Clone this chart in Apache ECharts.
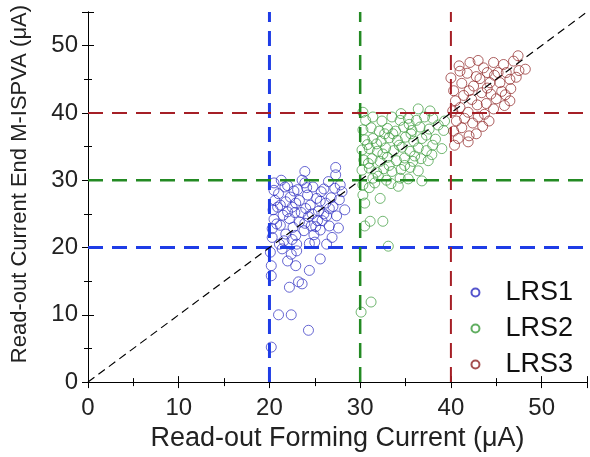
<!DOCTYPE html>
<html><head><meta charset="utf-8">
<script src="https://cdn.jsdelivr.net/npm/echarts@6/dist/echarts.min.js"></script>
<style>html,body{margin:0;padding:0;background:#fff}#c{width:590px;height:457px}</style>
</head><body><div id="c"></div>
<script>
const seriesNames = ['LRS1', 'LRS2', 'LRS3'];
const axisTicks = [0, 10, 20, 30, 40, 50];
const axisMax = 55;
const thresholds = [20, 30, 40];

const lrs1 = [
[20.2,5.2],[21.0,10.0],[22.4,10.0],[24.3,7.7],[22.2,14.1],[23.2,14.9],[23.6,14.6],[20.2,15.8],[20.2,17.3],[22.9,17.3],
[24.4,16.6],[25.6,18.3],[22.4,19.0],[22.0,18.0],[20.1,19.3],[26.3,20.5],[21.1,20.5],[23.0,20.5],[22.5,21.2],[20.3,21.5],
[20.3,22.8],[20.5,24.2],[20.4,25.6],[20.6,27.0],[20.5,28.5],[20.5,29.6],[21.3,30.0],[21.0,28.0],[21.2,26.3],[21.5,24.8],
[21.2,23.3],[21.8,22.0],[22.0,29.2],[22.3,27.5],[22.5,26.0],[22.2,24.3],[22.6,23.0],[22.9,21.8],[23.1,28.6],[23.3,27.0],
[23.5,25.2],[23.3,23.8],[23.8,22.5],[23.9,29.6],[23.9,31.3],[24.2,27.8],[24.5,26.3],[24.3,24.6],[24.6,23.2],[24.9,21.9],
[24.8,29.0],[25.2,27.3],[25.4,25.4],[25.3,24.0],[25.6,22.6],[25.0,20.8],[25.7,28.3],[25.6,26.9],[26.0,25.0],[26.3,24.7],
[26.6,23.2],[26.5,29.8],[26.8,27.4],[27.0,26.1],[27.3,30.8],[27.3,31.9],[27.7,27.1],[27.8,29.3],[28.3,25.6],[27.4,24.7],
[27.6,22.9],[26.0,28.7],[21.6,21.0],[22.8,25.2],[24.0,25.8],[21.8,26.8],[23.6,30.0],[22.7,28.4],[20.8,23.5],[25.1,23.1],
[26.9,21.5],[24.4,20.6],[23.0,19.5],[21.4,19.8],[28.0,28.3],[27.2,28.8],[26.2,26.6],[21.7,29.0],[22.9,26.6],[24.1,28.9],
[20.9,26.0],[23.9,23.6],[25.8,24.0],[22.0,25.3],[26.6,25.8],[24.7,25.0]
];
const lrs2 = [
[30.5,26.6],[32.2,27.3],[31.1,23.9],[32.5,23.9],[30.5,23.2],[33.1,20.2],[31.2,11.9],[30.1,10.4],[30.3,27.8],
[36.8,29.9],[34.2,29.1],[32.9,30.0],[34.4,30.3],[31.4,30.3],[30.3,29.3],[31.0,28.9],[33.4,29.5],[35.3,30.2],
[30.2,31.5],[31.0,31.8],[31.8,31.2],[32.6,31.7],[33.5,31.3],[34.5,31.6],[35.5,31.9],[36.4,31.4],
[30.4,33.0],[31.3,33.2],[32.2,32.8],[33.0,33.4],[34.0,32.9],[34.9,33.3],[35.8,32.8],[36.7,33.2],[37.5,32.9],
[30.2,34.5],[31.0,34.7],[31.9,34.3],[32.8,34.8],[33.7,34.4],[34.6,34.9],[35.5,34.3],[36.4,34.8],[37.3,34.4],[38.0,35.2],[39.0,34.7],
[30.5,36.0],[31.4,36.2],[32.3,35.8],[33.2,36.3],[34.1,35.9],[35.0,36.4],[35.9,35.8],[36.8,36.2],[37.3,36.7],[38.3,36.1],[39.2,37.4],
[30.3,37.5],[31.2,37.8],[32.1,37.3],[33.0,37.7],[33.9,37.3],[34.8,37.9],[35.7,37.4],[36.6,37.9],[37.6,37.6],[38.6,38.2],
[30.6,38.9],[31.4,39.4],[32.4,38.8],[33.5,39.4],[34.4,38.9],[35.3,39.2],[36.2,38.9],[37.1,39.4],[38.0,39.2],[39.3,38.8],
[30.3,40.1],[36.4,40.6],[37.7,40.3],[34.5,39.9],[30.8,35.3],[32.5,33.9],[34.3,35.2],[36.0,33.6],[33.6,36.9],[35.4,38.3],
[32.0,30.6],[31.6,29.6],[30.9,32.5],[32.7,36.9],[34.9,32.2],[31.8,35.4],[35.6,36.9],[33.2,32.2],[37.9,33.8]
];
const lrs3 = [
[47.4,48.5],[48.2,46.5],[46.9,47.7],[44.7,47.5],[45.8,47.2],[43.6,46.7],[42.1,47.5],[41.0,46.2],[40.0,45.2],[45.9,41.1],
[45.0,42.1],[43.0,39.4],[42.8,36.9],[41.9,35.7],[40.4,35.2],[44.3,44.5],[45.4,44.5],[46.5,45.0],[42.5,44.0],
[40.3,43.3],[41.2,44.4],[42.8,45.4],[44.0,46.0],[46.1,46.0],[47.5,46.3],
[40.5,41.8],[41.4,42.6],[42.3,42.0],[43.4,43.0],[44.4,42.8],[45.6,43.2],[46.6,43.6],
[40.2,40.3],[41.0,40.8],[41.9,40.1],[42.9,41.2],[43.9,41.4],[44.7,40.6],[46.5,41.8],
[40.6,38.8],[41.5,39.2],[42.4,38.5],[43.7,39.8],[40.3,37.3],[41.2,37.8],[42.0,36.6],[40.8,36.2],[43.5,38.0],[44.2,38.8],
[43.2,45.1],[41.8,45.9],[44.8,45.6],[42.0,43.3],[47.2,45.3],[40.9,47.0],[43.0,47.8],[45.2,46.0],[44.0,43.7],[46.0,42.7]
];
const diagonal = [[0, 0], [55, 55]];

const colors = ['#2b2bc0', '#3a9a3a', '#8e2424'];
const lineColors = ['#1e3ce6', '#238a23', '#a51f26'];
const lineWidths = [3, 2.5, 2];

const font = 'Liberation Sans, Arial, sans-serif';
const chart = echarts.init(document.getElementById('c'));
const series = [];
[lrs1, lrs2, lrs3].forEach((d, i) => {
  series.push({
    name: seriesNames[i], type: 'scatter', data: d, symbol: 'circle', symbolSize: 10,
    itemStyle: { color: 'rgba(0,0,0,0)', borderColor: colors[i], borderWidth: 0.9 },
    z: 2
  });
});
thresholds.forEach((t, i) => {
  const ls = { color: lineColors[i], width: lineWidths[i], type: [15, 9] };
  series.push({ type: 'line', data: [[t, 0], [t, axisMax]], symbol: 'none', lineStyle: ls, z: 3, silent: true });
  series.push({ type: 'line', data: [[0, t], [axisMax, t]], symbol: 'none', lineStyle: ls, z: 3, silent: true });
});
series.push({ type: 'line', data: diagonal, symbol: 'none', lineStyle: { color: '#000', width: 1.2, type: [8, 5] }, z: 4, silent: true });

const baseAxis = {
  min: 0, max: axisMax, interval: 10,
  axisLine: { lineStyle: { color: '#000', width: 1 } },
  axisTick: { inside: true, length: 6, lineStyle: { color: '#000' } },
  minorTick: { show: true, splitNumber: 2, length: 4, lineStyle: { color: '#000' } },
  splitLine: { show: false }
};
chart.setOption({
  animation: false,
  grid: { left: 88, right: 3, top: 12, bottom: 71 },
  legend: {
    data: seriesNames.map(n => ({ name: n, icon: 'circle' })),
    orient: 'vertical', right: 12, top: 274, itemWidth: 8, itemHeight: 8, itemGap: 9,
    textStyle: { fontSize: 27, fontFamily: font, color: '#111', padding: [0, 0, 0, 21] }
  },
  xAxis: [
    Object.assign({}, baseAxis, {
      type: 'value', position: 'bottom',
      axisLabel: { fontSize: 24, fontFamily: font, color: '#222', margin: 14, showMaxLabel: false },
      name: 'Read-out Forming Current (μA)', nameLocation: 'middle', nameGap: 35,
      nameTextStyle: { fontSize: 27, fontFamily: font, color: '#222' }
    }),
    Object.assign({}, baseAxis, { type: 'value', position: 'top', axisLabel: { show: false } })
  ],
  yAxis: [
    Object.assign({}, baseAxis, {
      type: 'value', position: 'left',
      axisLabel: { fontSize: 24, fontFamily: font, color: '#222', margin: 10, showMaxLabel: false },
      name: 'Read-out Current End M-ISPVA (μA)', nameLocation: 'middle', nameGap: 57,
      nameTextStyle: { fontSize: 22, fontFamily: font, color: '#222', padding: [0, 0, 0, 26] }
    }),
    Object.assign({}, baseAxis, { type: 'value', position: 'right', axisLabel: { show: false } })
  ],
  series: series
});
</script></body></html>
